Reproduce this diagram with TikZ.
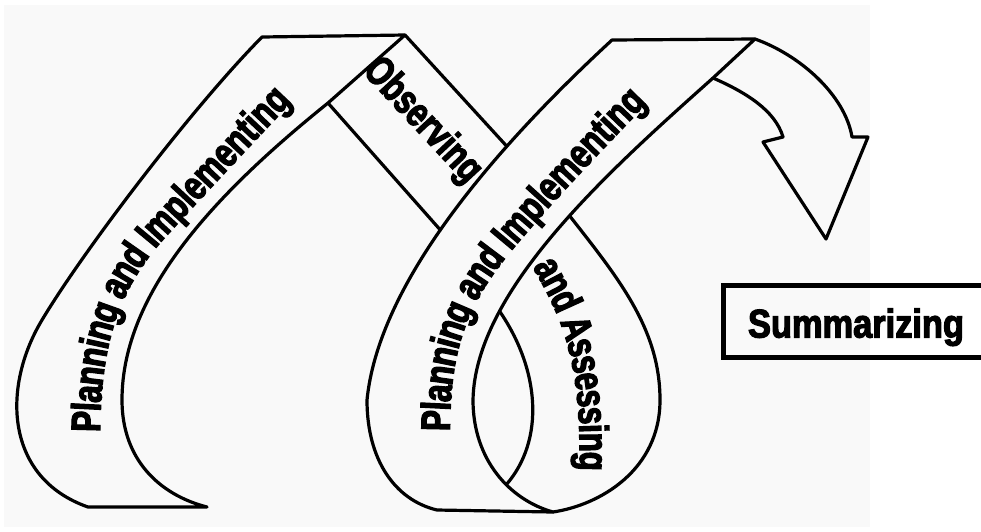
\documentclass[tikz,border=0pt]{standalone}
\usepackage{fontspec}
\usetikzlibrary{decorations.text}
\newfontfamily\ribfont[FakeStretch=0.76,FakeBold=3]{Liberation Sans}
\newfontfamily\sumfont[FakeStretch=0.86,FakeBold=3]{Liberation Sans}
\definecolor{bgpaper}{RGB}{249,249,249}
\newcommand\ribstyle{\ribfont\bfseries\fontsize{41}{45}\selectfont}
\newcommand\sumstyle{\sumfont\bfseries\fontsize{40}{44}\selectfont}
\begin{document}
\begin{tikzpicture}[x=1pt,y=-1pt,
  ribbon/.style={draw=black,line width=3.2pt,line cap=round,line join=round},
  ribtext/.style={decorate,decoration={text along path,text align=center,raise=-14pt,text={|\ribstyle|#1}}}]
\useasboundingbox (0,0) rectangle (981,531);
\begin{scope}
\clip (0,0) rectangle (981,531);
\fill[white] (0,0) rectangle (981,531);
\fill[bgpaper] (4,5) rectangle (870,527);

% first ribbon
\draw[ribbon] (88,507) .. controls (5,478) and (1.5,387.5) .. (42,320)
  .. controls (82,253) and (190,110) .. (262,37) -- (405,35) -- (328,103)
  .. controls (220,190) and (122,290) .. (122,400)
  .. controls (122,460) and (160,495) .. (207,507) -- cycle;

% second ribbon
\draw[ribbon] (437,510) .. controls (395,500) and (367,460) .. (367,400)
  .. controls (380,270) and (520,125) .. coordinate[pos=0.43] (ob2) coordinate[pos=0.655] (ob1) (612,40)
  -- (755,39) -- (713,78)
  .. controls (610,170) and (475,290) .. coordinate[pos=0.45] (as1) coordinate[pos=0.735] (as2) (473,400)
  .. controls (473,460) and (510,500) .. coordinate[pos=0.6] (as3) (553,512) -- cycle;

% observing band
\draw[ribbon] (405,35) -- (ob1);
\draw[ribbon] (328,103) -- (ob2);

% and assessing band
\draw[ribbon] (as1) .. controls (620,280) and (660,330) .. (660,400)
  .. controls (660,470) and (600,505) .. (553,512);
\draw[ribbon] (as2) .. controls (540,370) and (545,440) .. (as3);

% arrow
\draw[ribbon] (755,39) .. controls (800,55) and (845,95) .. (852,137)
  -- (868,137) -- (826,239) -- (763,142) -- (783,137)
  .. controls (775,110) and (745,92) .. (713,78);

% texts
\path[ribtext={Planning and Implementing}] (86,448) .. controls (85,350) and (101,290) .. (151,232)
  .. controls (191,188) and (241,135) .. (293,80);
\path[ribtext={Planning and Implementing}] (436,445) .. controls (434,350) and (452,300) .. (502,240)
  .. controls (542,192) and (592,140) .. (647,83);
\path[ribtext={and Assessing}] (540,252) .. controls (575,310) and (598,360) .. (593,480);
\node[rotate=-47,font=\ribstyle,inner sep=0pt] (obs) at (422,121) {Observing};

\node[draw=black,line width=5pt,minimum width=266pt,minimum height=72pt,
  inner sep=0pt,text height=33pt,text depth=0pt,font=\sumstyle] (summ) at (856,321) {Summarizing};
\end{scope}
\end{tikzpicture}
\end{document}
